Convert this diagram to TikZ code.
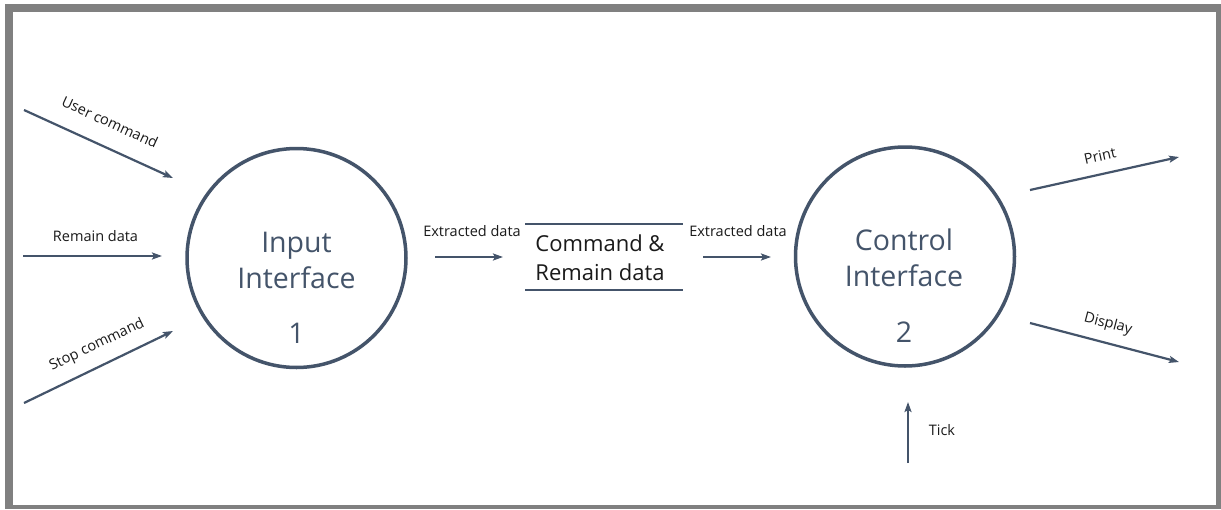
\documentclass[tikz,border=0pt]{standalone}
\usepackage{fontspec}
\setmainfont{Open Sans}
\usetikzlibrary{arrows.meta}
\definecolor{ink}{HTML}{44546A}
\definecolor{frame}{HTML}{808080}
\definecolor{lbl}{HTML}{1A1A1A}
\tikzset{
  flow/.style={draw=ink, line width=2.2pt, -{Stealth[length=10pt,width=7pt,inset=2pt]}},
  proc/.style={circle, draw=ink, line width=3.5pt, minimum size=219pt, inner sep=0pt},
  proctext/.style={text=ink, font=\fontsize{28.5}{36}\selectfont, align=center, inner sep=0pt},
  lab/.style={text=lbl, font=\fontsize{14.5}{17}\selectfont, inner sep=0pt},
  storeline/.style={draw=ink, line width=2.2pt},
  storetext/.style={text=lbl, font=\fontsize{22}{29}\selectfont, align=center, inner sep=0pt},
}
\begin{document}
\begin{tikzpicture}[x=1pt,y=-1pt]
\useasboundingbox (0,0) rectangle (1221,509);
\fill[white] (0,0) rectangle (1221,509);
\fill[frame] (5,4) rectangle (1221,509);
\fill[white] (12.5,11.5) rectangle (1216,505);

% processes
\node[proc] (p1) at (296.5,258) {};
\node[proctext] (t1) at (296.5,260) {Input\\Interface};
\node[proctext] (n1) at (296.5,333) {1};
\node[proc] (p2) at (905,256.5) {};
\node[proctext] (t2) at (904,258) {Control\\Interface};
\node[proctext] (n2) at (904,332) {2};

% data store
\coordinate (s1a) at (525,224); \coordinate (s1b) at (683,224);
\coordinate (s2a) at (525,290); \coordinate (s2b) at (683,290);
\draw[storeline] (s1a) -- (s1b);
\draw[storeline] (s2a) -- (s2b);
\node[storetext] (store) at (600,258) {Command \&\\Remain data};

% inputs to process 1
\coordinate (uc0) at (24,110); \coordinate (uc1) at (173,178);
\coordinate (rd0) at (23,256); \coordinate (rd1) at (162,256);
\coordinate (sc0) at (24,403); \coordinate (sc1) at (173,331);
\draw[flow] (uc0) -- (uc1);
\draw[flow] (rd0) -- (rd1);
\draw[flow] (sc0) -- (sc1);
\node[lab, rotate=-24.5] (luc) at (110,122) {User command};
\node[lab] (lrd) at (95.5,236) {Remain data};
\node[lab, rotate=25.5] (lsc) at (97,345) {Stop command};

% extracted data
\coordinate (e10) at (435,257); \coordinate (e11) at (503,257);
\coordinate (e20) at (703,257); \coordinate (e21) at (771,257);
\draw[flow] (e10) -- (e11);
\draw[flow] (e20) -- (e21);
\node[lab] (le1) at (472,231) {Extracted data};
\node[lab] (le2) at (738,231) {Extracted data};

% outputs of process 2
\coordinate (pr0) at (1030,190); \coordinate (pr1) at (1179,157);
\coordinate (di0) at (1030,323); \coordinate (di1) at (1179,362);
\coordinate (tk0) at (908,463); \coordinate (tk1) at (908,402);
\draw[flow] (pr0) -- (pr1);
\draw[flow] (di0) -- (di1);
\draw[flow] (tk0) -- (tk1);
\node[lab, rotate=12.5] (lpr) at (1100,156) {Print};
\node[lab, rotate=-14.7] (ldi) at (1108,324) {Display};
\node[lab] (ltk) at (942,430) {Tick};
\end{tikzpicture}
\end{document}
